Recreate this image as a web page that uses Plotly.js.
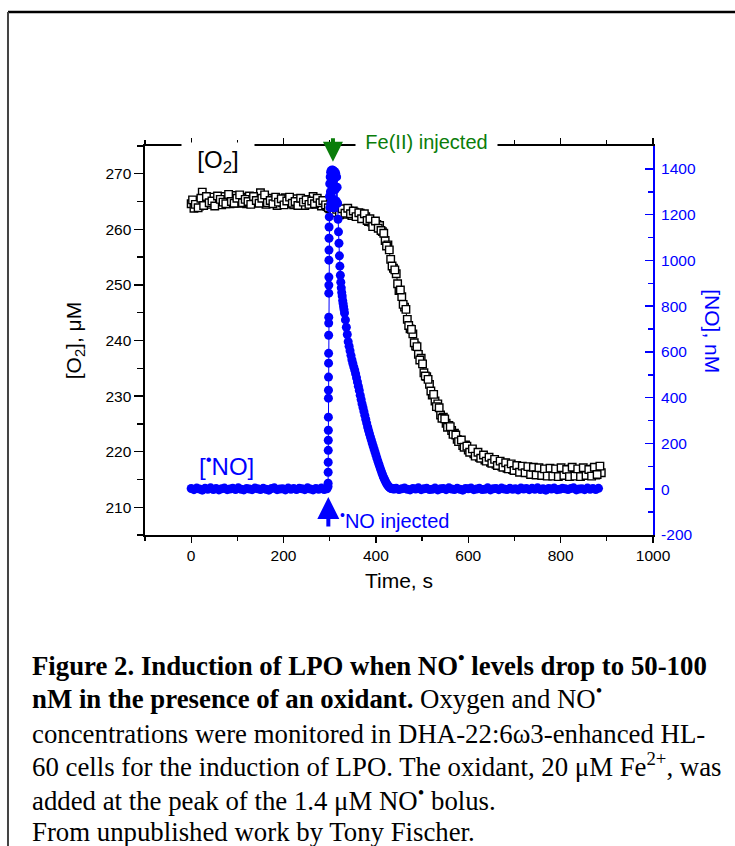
<!DOCTYPE html>
<html>
<head>
<meta charset="utf-8">
<script src="https://cdn.plot.ly/plotly-3.0.1.min.js"></script>
<style>
  html, body { margin: 0; padding: 0; background: #fff; }
  #chart { width: 735px; height: 846px; }
</style>
</head>
<body>
<div id="chart"></div>
<script>
// ---------- DATA ----------
// [O2] trace (µM) (two interleaved sample sets)
const o2Time = [0,6,12,18,24,30,36,42,48,54,60,66,72,78,84,90,96,102,108,114,120,126,132,138,144,150,156,162,168,174,180,186,192,198,204,210,216,222,228,234,240,246,252,258,264,270,276,282,288,294,300,306,312,318,324,330,336,342,348,354,360,366,372,378,384,390,396,402,408,414,420,426,432,438,444,450,456,462,468,474,480,486,492,498,504,510,516,522,528,534,540,546,552,558,564,570,576,582,588,594,600,606,612,618,624,630,636,642,648,654,660,666,672,678,684,690,696,702,708,714,720,726,732,738,744,750,756,762,768,774,780,786,792,798,804,810,816,822,828,834,840,846,852,858,864,870,876,882,888];
const o2Values = [264.6,263.8,265.1,264.2,266.7,264.6,265.4,264.5,265.8,264.9,265.3,264.4,265.9,265.0,264.6,266.1,265.2,264.7,265.8,265.1,264.6,266.0,265.3,264.8,265.5,266.6,265.0,264.5,265.6,264.9,265.3,264.3,265.4,264.8,265.7,264.6,265.1,264.4,265.5,264.7,265.2,264.3,265.4,264.8,265.9,264.5,265.0,264.2,264.9,264.1,263.7,263.4,264.0,263.1,262.9,263.5,262.7,263.3,262.5,263.1,262.4,262.9,262.0,262.3,261.4,261.3,260.8,260.9,260.7,259.6,258.0,257.2,254.6,253.0,252.0,249.0,247.9,246.0,243.8,242.1,241.2,239.0,237.5,236.8,234.2,233.5,232.1,230.2,229.1,228.6,226.6,226.2,225.1,224.7,223.8,223.3,222.2,222.0,221.1,221.2,220.3,220.4,219.6,219.8,219.0,219.3,218.5,218.9,218.1,218.5,217.7,218.2,217.4,217.9,217.0,217.6,216.8,217.3,216.6,217.1,216.4,217.0,216.2,216.9,216.1,216.8,215.9,216.7,216.0,216.6,215.8,216.7,215.9,216.8,216.0,216.5,215.7,216.9,215.8,216.4,215.9,216.7,215.8,216.5,216.0,216.9,215.8,217.0,216.2];
const o2TimeB = [3,9,15,21,27,33,39,45,51,57,63,69,75,81,87,93,99,105,111,117,123,129,135,141,147,153,159,165,171,177,183,189,195,201,207,213,219,225,231,237,243,249,255,261,267,273,279,285,291,297,303,309,315,321,327,333,339,345,351,357,363,369,375,381,387,393,399,405,411,417,423,429,435,441,447,453,459,465,471,477,483,489,495,501,507,513,519,525,531,537,543,549,555,561,567,573,579,585,591,597,603,609,615,621,627,633,639,645,651,657,663,669,675,681,687,693,699,705,711,717,723,729,735,741,747,753,759,765,771,777,783,789,795,801,807,813,819,825,831,837,843,849,855,861,867,873,879,885];
const o2ValuesB = [265.3,264.5,263.9,265.6,264.3,265.9,264.8,265.1,264.2,266.0,265.4,264.9,264.6,266.3,265.0,264.7,265.6,266.2,264.8,265.4,265.0,264.5,265.9,265.2,264.7,265.6,266.2,264.8,265.2,264.6,265.8,264.9,265.5,264.4,265.1,265.8,264.7,265.0,264.3,265.6,264.9,265.3,264.5,265.1,264.6,265.6,264.8,265.2,264.4,263.9,264.3,263.0,263.6,262.6,263.7,262.9,263.8,262.8,263.3,262.3,263.0,261.9,262.8,261.6,261.9,260.5,261.5,260.2,259.8,259.3,257.0,256.3,253.4,252.7,250.2,249.1,246.5,245.6,242.7,242.0,239.6,238.9,236.5,235.8,233.6,233.0,230.9,230.3,228.1,227.9,226.0,225.9,224.4,224.5,223.1,223.0,221.8,222.1,220.8,221.0,219.9,220.5,219.2,219.9,218.8,219.4,218.3,219.0,217.9,218.6,217.5,218.3,217.2,218.0,216.9,217.8,216.6,217.5,216.3,217.4,216.2,217.3,215.9,217.2,215.8,217.1,215.7,216.9,215.6,217.0,215.6,216.9,215.5,217.1,215.7,216.8,215.5,217.2,215.6,216.9,215.5,217.1,215.7,216.8,215.6,217.2,215.9,217.4];

// [•NO] trace (nM)
const noTime = [0,6,12,18,24,30,36,42,48,54,60,66,72,78,84,90,96,102,108,114,120,126,132,138,144,150,156,162,168,174,180,186,192,198,204,210,216,222,228,234,240,246,252,258,264,270,276,282,288,294,
296.4,296.5,296.6,296.7,296.8,296.9,297.0,297.1,297.2,297.3,297.4,297.5,297.6,297.7,297.8,297.9,298.0,298.1,298.2,298.3,298.4,298.5,298.6,
299,299.5,300,300.5,301,301.5,302,302.5,303,304,305,306,307,308,309,310,311,312,313,314,315,316,317,
318,319,320,321,322,323,324,325,326,327,328,329,330,331,332,334,336,338,340,342,344,346,348,350,352,354,356,358,360,362,364,366,368,370,372,374,376,378,380,382,384,386,388,390,392,394,396,398,400,402,404,406,408,410,412,414,416,418,420,422,424,426,428,430,432,434,436,438,440,
444,450,456,462,468,474,480,486,492,498,504,510,516,522,528,534,540,546,552,558,564,570,576,582,588,594,600,606,612,618,624,630,636,642,648,654,660,666,672,678,684,690,696,702,708,714,720,726,732,738,744,750,756,762,768,774,780,786,792,798,804,810,816,822,828,834,840,846,852,858,864,870,876,882];
const noValues = [3,-2,5,1,-4,4,0,6,-1,3,-3,2,5,-2,1,4,-1,6,0,-3,3,1,-2,5,2,-1,4,0,-4,3,6,-2,1,2,-3,5,0,3,-1,4,2,-2,6,1,-3,3,0,5,-1,2,
12,26,74,118,170,214,258,315,398,433,490,551,594,673,726,752,857,892,927,1001,1045,1097,1146,
1190,1280,1335,1230,1365,1300,1385,1250,1392,1330,1395,1270,1394,1345,1390,1230,1388,1310,1380,1260,1365,1320,1250,
1180,1125,1075,1020,975,935,905,880,860,845,825,812,798,785,770,740,708,676,645,625,605,585,566,550,535,521,505,487,469,450,432,411,392,374,357,340,323,306,289,272,257,243,229,216,202,189,176,163,150,137,124,112,100,88,77,66,55,46,37,29,22,16,11,7,4,3,2,2,1,
4,-1,2,5,0,-3,3,1,6,-2,2,4,-1,0,5,-3,2,3,-2,6,1,-1,4,0,-4,3,2,5,-2,1,4,-1,0,6,-3,2,3,-2,5,1,-1,4,0,2,-3,5,1,3,-2,4,0,6,-1,2,-4,3,1,5,-2,0,4,2,-1,3,6,-3,1,2,-2,5,0,3,-1,4];

// Right-axis tick labels
const noTickVals = [-200,0,200,400,600,800,1000,1200,1400];
const noTickText = ['-200','0','200','400','600','800','1000','1200','1400'];
const noMinorVals = [-100,100,300,500,700,900,1100,1300];

// Event times (s)
const noInjectTime = 297;
const feInjectTime = 307;

// Caption lines
const captionLines = [
  '<b>Figure 2. Induction of LPO when NO<sup>•</sup> levels drop to 50-100</b>',
  '<b>nM in the presence of an oxidant.</b> Oxygen and NO<sup>•</sup>',
  'concentrations were monitored in DHA-22:6ω3-enhanced HL-',
  '60 cells for the induction of LPO. The oxidant, 20 μM Fe<sup>2+</sup>, was',
  'added at the peak of the 1.4 μM NO<sup>•</sup> bolus.',
  'From unpublished work by Tony Fischer.'
];
const captionY = [-0.3805, -0.4653, -0.5553, -0.6401, -0.7275, -0.8072];

// ---------- CHART ----------
const BLUE = '#0000ff';
const GREEN = '#0a7d0a';
const SANS = 'Liberation Sans, Arial, sans-serif';
const SERIF = 'Liberation Serif, Times New Roman, serif';

const o2Marker = {symbol: 'square', size: 7.5, color: 'white', line: {color: 'black', width: 1.4}};
const traces = [
  {
    x: o2Time, y: o2Values, yaxis: 'y', type: 'scatter', mode: 'lines+markers',
    line: {color: 'black', width: 1}, marker: o2Marker, name: '[O2]'
  },
  {
    x: o2TimeB, y: o2ValuesB, yaxis: 'y', type: 'scatter', mode: 'markers',
    marker: o2Marker, name: '[O2] b'
  },
  {
    x: noTime, y: noValues, yaxis: 'y2', type: 'scatter', mode: 'lines+markers',
    line: {color: BLUE, width: 1},
    marker: {symbol: 'circle', size: 9, color: BLUE}, name: '[NO]'
  }
];

const annotations = [
  {xref:'paper', yref:'paper', x:0.1437, y:0.9589, xanchor:'center', yanchor:'middle', text:'[O<sub>2</sub>]', showarrow:false,
   font:{family:SANS, size:24, color:'black'}, bgcolor:'white', borderpad:3, width:66},
  {xref:'paper', yref:'paper', x:0.555, y:1.0103, xanchor:'center', yanchor:'middle', text:'Fe(II) injected', showarrow:false,
   font:{family:SANS, size:20, color:GREEN}, bgcolor:'white', borderpad:1, width:139},
  {xref:'x', yref:'paper', x:feInjectTime, y:0.9597, text:'', showarrow:true, ax:0, ay:-25,
   arrowcolor:GREEN, arrowwidth:4, arrowhead:2, arrowsize:1, standoff:0},
  {xref:'paper', yref:'paper', x:0.1614, y:0.18, xanchor:'center', yanchor:'middle', text:'[<sup>•</sup>NO]', showarrow:false,
   font:{family:SANS, size:24, color:BLUE}},
  {xref:'paper', yref:'paper', x:0.492, y:0.0386, xanchor:'center', yanchor:'middle', text:'<sup>•</sup>NO injected', showarrow:false,
   font:{family:SANS, size:20, color:BLUE}},
  {xref:'x', yref:'paper', x:noInjectTime, y:0.0977, text:'', showarrow:true, ax:0, ay:31,
   arrowcolor:BLUE, arrowwidth:4, arrowhead:2, arrowsize:1.1, standoff:0},
  {xref:'paper', yref:'paper', x:1.118, y:0.524, xanchor:'center', yanchor:'middle', text:'[NO], nM', showarrow:false, textangle:90,
   font:{family:SANS, size:21, color:BLUE}}
];
captionLines.forEach((t, i) => {
  annotations.push({xref:'paper', yref:'paper', x:-0.2264, y:captionY[i], xanchor:'left', yanchor:'bottom',
    align:'left', text:t, showarrow:false, font:{family:SERIF, size:26.8, color:'black'}});
});

const layout = {
  width: 735, height: 846,
  margin: {l:145, r:82, t:146, b:311, pad:0},
  paper_bgcolor: 'white', plot_bgcolor: 'white',
  showlegend: false,
  font: {family: SANS, size: 15, color: 'black'},
  xaxis: {
    range: [-100, 1000], tick0: 0, dtick: 200,
    ticks: 'outside', ticklen: 6, tickwidth: 1.3, tickcolor: 'black',
    showline: true, linecolor: 'black', linewidth: 1.6, mirror: 'ticks',
    showgrid: false, zeroline: false, tickfont: {size: 15.5},
    minor: {dtick: 100, ticks: 'outside', ticklen: 4, tickcolor: 'black', showgrid: false},
    title: {text: 'Time, s', font: {size: 21}, standoff: 10}
  },
  yaxis: {
    range: [205, 275], tick0: 210, dtick: 10,
    ticks: 'outside', ticklen: 9, tickwidth: 1.3, tickcolor: 'black',
    showline: true, linecolor: 'black', linewidth: 1.6,
    showgrid: false, zeroline: false, tickfont: {size: 15.5},
    minor: {dtick: 5, ticks: 'outside', ticklen: 6, tickcolor: 'black', showgrid: false},
    title: {text: '[O<sub>2</sub>], μM', font: {size: 21}, standoff: 18}
  },
  yaxis2: {
    overlaying: 'y', side: 'right', range: [-200, 1500],
    tickmode: 'array', tickvals: noTickVals, ticktext: noTickText,
    ticks: 'inside', ticklen: 8, tickwidth: 1.5, tickcolor: BLUE,
    showline: true, linecolor: BLUE, linewidth: 2,
    showgrid: false, zeroline: false, ticklabelstandoff: 3,
    tickfont: {size: 15.5, color: BLUE},
    minor: {tickmode: 'array', tickvals: noMinorVals, ticks: 'inside', ticklen: 5, tickcolor: BLUE, showgrid: false}
  },
  annotations: annotations,
  shapes: [
    {type:'line', xref:'paper', yref:'paper', x0:-0.2697, x1:1.2, y0:1.3445, y1:1.3445, line:{color:'black', width:2.5}},
    {type:'line', xref:'paper', yref:'paper', x0:-0.2697, x1:-0.2697, y0:1.3445, y1:-0.82, line:{color:'#444', width:2}}
  ]
};

Plotly.newPlot('chart', traces, layout, {staticPlot: true, displayModeBar: false});
</script>
</body>
</html>
